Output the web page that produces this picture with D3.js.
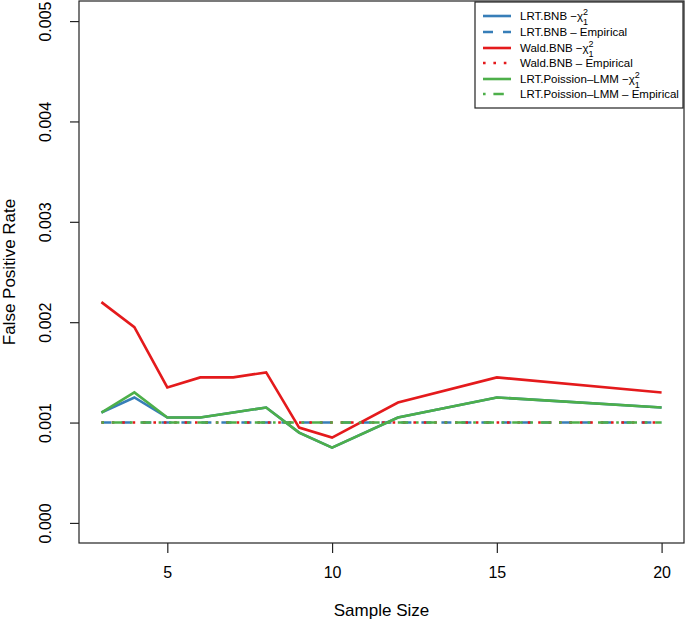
<!DOCTYPE html>
<html>
<head>
<meta charset="utf-8">
<script src="https://cdn.jsdelivr.net/npm/d3@7"></script>
<style>
  body { margin: 0; background: #fff; }
  text { font-family: "Liberation Sans", Arial, Helvetica, sans-serif; fill: #000; }
</style>
</head>
<body>
<script>
// data
var sampleSize = [3, 4, 5, 6, 7, 8, 9, 10, 12, 15, 20];
var lrtBnbChi = [0.0011, 0.00125, 0.00105, 0.00105, 0.0011, 0.00115, 0.0009, 0.00075, 0.00105, 0.00125, 0.00115];
var waldBnbChi = [0.0022, 0.00195, 0.00135, 0.00145, 0.00145, 0.0015, 0.00095, 0.00085, 0.0012, 0.00145, 0.0013];
var lrtPoisChi = [0.0011, 0.0013, 0.00105, 0.00105, 0.0011, 0.00115, 0.0009, 0.00075, 0.00105, 0.00125, 0.00115];
var empirical = [0.001, 0.001, 0.001, 0.001, 0.001, 0.001, 0.001, 0.001, 0.001, 0.001, 0.001];
var xTicks = [5, 10, 15, 20];
var yTicks = [0, 0.001, 0.002, 0.003, 0.004, 0.005];

var blue = "#377EB8", red = "#E41A1C", green = "#4DAF4A";

// series in drawing order (R lty 2, 3, 4 scaled by lwd)
var series = [
  { name: "LRT.BNB", kind: "chi", values: lrtBnbChi, color: blue, dash: null },
  { name: "LRT.BNB", kind: "emp", values: empirical, color: blue, dash: "10,10" },
  { name: "Wald.BNB", kind: "chi", values: waldBnbChi, color: red, dash: null },
  { name: "Wald.BNB", kind: "emp", values: empirical, color: red, dash: "2.6,7.8" },
  { name: "LRT.Poission\u2013LMM", kind: "chi", values: lrtPoisChi, color: green, dash: null },
  { name: "LRT.Poission\u2013LMM", kind: "emp", values: empirical, color: green, dash: "2.6,7.8,10.4,7.8" }
];

var svgWidth = 685, svgHeight = 626;
var box = { left: 79, right: 684, top: 1, bottom: 543 };

var svg = d3.select("body").append("svg")
  .attr("width", svgWidth)
  .attr("height", svgHeight);

// R style: 4% padding on both axes
var xLinearScale = d3.scaleLinear().domain([3 - 17 * 0.04, 20 + 17 * 0.04]).range([box.left, box.right]);
var yLinearScale = d3.scaleLinear().domain([-0.0002, 0.0052]).range([box.bottom, box.top]);

var line = d3.line()
  .x(function(d, i) { return xLinearScale(sampleSize[i]); })
  .y(function(d) { return yLinearScale(d); });

series.forEach(function(s) {
  svg.append("path")
    .datum(s.values)
    .attr("d", line)
    .attr("fill", "none")
    .attr("stroke", s.color)
    .attr("stroke-width", 2.6)
    .attr("stroke-dasharray", s.dash);
});

// box
svg.append("rect")
  .attr("x", box.left).attr("y", box.top)
  .attr("width", box.right - box.left).attr("height", box.bottom - box.top)
  .attr("fill", "none").attr("stroke", "#222").attr("stroke-width", 1.2);

// x axis
var bottomAxis = d3.axisBottom(xLinearScale).tickValues(xTicks).tickSize(10).tickPadding(14).tickFormat(d3.format("d"));
var gx = svg.append("g").attr("transform", "translate(0," + box.bottom + ")").call(bottomAxis);
gx.select(".domain").remove();
gx.selectAll("line").attr("stroke", "#222").attr("stroke-width", 1.2);
gx.selectAll("text").style("font-size", "16px").style("font-family", "Liberation Sans, Arial, sans-serif");

// y axis
var leftAxis = d3.axisLeft(yLinearScale).tickValues(yTicks).tickSize(9).tickFormat(d3.format(".3f"));
var gy = svg.append("g").attr("transform", "translate(" + box.left + ",0)").call(leftAxis);
gy.select(".domain").remove();
gy.selectAll("line").attr("stroke", "#222").attr("stroke-width", 1.2);
gy.selectAll("text")
  .style("font-size", "16px").style("font-family", "Liberation Sans, Arial, sans-serif")
  .attr("x", null).attr("dy", null)
  .attr("text-anchor", "middle")
  .attr("transform", "translate(-28,0) rotate(-90)");

// axis titles
svg.append("text")
  .attr("x", (box.left + box.right) / 2).attr("y", 616)
  .attr("text-anchor", "middle").style("font-size", "17px")
  .text("Sample Size");
svg.append("text")
  .attr("transform", "translate(15," + (box.top + box.bottom) / 2 + ") rotate(-90)")
  .attr("text-anchor", "middle").style("font-size", "17px")
  .text("False Positive Rate");

// legend
var legend = svg.append("g");
legend.append("rect")
  .attr("x", 475).attr("y", 2).attr("width", 208).attr("height", 106)
  .attr("fill", "#fff").attr("stroke", "#222").attr("stroke-width", 1.2);

var rowY = [16, 32, 48, 63, 79, 94];
series.forEach(function(s, i) {
  var y = rowY[i];
  legend.append("line")
    .attr("x1", 483).attr("x2", 511).attr("y1", y).attr("y2", y)
    .attr("stroke", s.color).attr("stroke-width", 2.6)
    .attr("stroke-dasharray", s.dash);
  var t = legend.append("text").attr("x", 520).attr("y", y + 4).style("font-size", "11.5px");
  if (s.kind === "chi") {
    t.append("tspan").text(s.name + " \u2212\u03C7");
    t.append("tspan").attr("dy", -5.5).style("font-size", "9px").text("2");
    t.append("tspan").attr("dx", -5).attr("dy", 10).style("font-size", "9px").text("1");
  } else {
    t.text(s.name + " \u2013 Empirical");
  }
});
</script>
</body>
</html>
